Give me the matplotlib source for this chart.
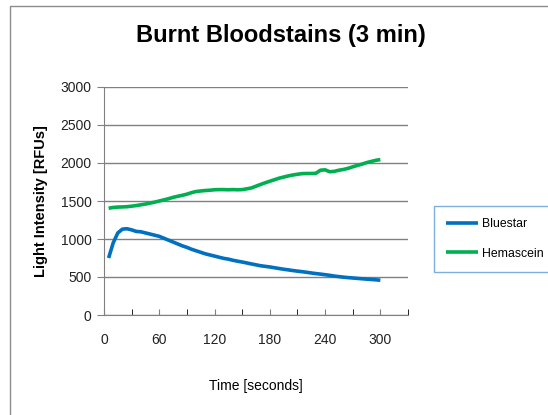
import numpy as np
import matplotlib
matplotlib.use("Agg")
import matplotlib.pyplot as plt
from matplotlib.patches import Rectangle

plt.rcParams['font.family'] = ['Liberation Sans', 'DejaVu Sans']

# time axis in seconds
time = list(range(5, 305, 5))

bluestar = [750, 950, 1080, 1130, 1135, 1120, 1100, 1095, 1080, 1065,
            1050, 1035, 1010, 985, 960, 935, 910, 890, 865, 845,
            825, 805, 790, 775, 760, 745, 735, 720, 708, 697,
            685, 672, 660, 648, 640, 632, 622, 612, 602, 594,
            585, 577, 570, 562, 553, 545, 538, 530, 522, 512,
            505, 498, 492, 487, 482, 477, 472, 468, 463, 458]

hemascein = [1405, 1415, 1420, 1422, 1425, 1432, 1440, 1450, 1460, 1472,
             1485, 1500, 1515, 1530, 1548, 1562, 1575, 1590, 1610, 1625,
             1632, 1638, 1642, 1648, 1650, 1650, 1648, 1650, 1648, 1650,
             1660, 1672, 1695, 1718, 1740, 1760, 1780, 1800, 1815, 1830,
             1842, 1852, 1860, 1862, 1862, 1865, 1905, 1910, 1885, 1890,
             1905, 1915, 1930, 1950, 1968, 1985, 2005, 2020, 2035, 2045]

xticks = [0, 60, 120, 180, 240, 300]
yticks = [0, 500, 1000, 1500, 2000, 2500, 3000]

fig = plt.figure(figsize=(5.48, 4.15), dpi=100)
fig.patch.set_facecolor('white')
# outer chart frame (cut off on right/bottom like the screenshot)
fig.patches.append(Rectangle((10/548, -0.1), 1.2, (415-6)/415 + 0.1,
                             transform=fig.transFigure, fill=False,
                             edgecolor='#8c8c8c', lw=1.0))

ax = fig.add_axes([104/548, 1 - 315/415, (408-104)/548, (315-87)/415])

ax.plot(time, bluestar, color='#0070C0', lw=2.6, label='Bluestar', solid_capstyle='butt')
ax.plot(time, hemascein, color='#00B050', lw=2.6, label='Hemascein', solid_capstyle='butt')

ax.set_xlim(0, 330)
ax.set_ylim(0, 3000)
ax.set_xticks(xticks)
ax.set_xticks(range(0, 331, 30), minor=True)
ax.set_yticks(yticks)
ax.yaxis.grid(True, color='#808080', lw=1.0)
ax.set_axisbelow(True)

for s in ['top', 'right']:
    ax.spines[s].set_visible(False)
for s in ['left', 'bottom']:
    ax.spines[s].set_color('#808080')
ax.tick_params(axis='both', colors='#808080', labelcolor='#222222', labelsize=10)
ax.tick_params(axis='x', which='both', length=4, direction='in', pad=13)
ax.tick_params(axis='y', length=5, direction='out', pad=4)

ax.set_xlabel('Time [seconds]', fontsize=10, labelpad=23)
ax.set_ylabel('Light Intensity [RFUs]', fontsize=10.5, fontweight='bold', labelpad=9)

fig.text(281/548, 1 - 42/415, 'Burnt Bloodstains (3 min)', ha='center', va='baseline',
         fontsize=17, fontweight='bold')

leg = ax.legend(loc='center left', bbox_to_anchor=(434/548, 1 - 239/415),
                bbox_transform=fig.transFigure, frameon=True, fancybox=False,
                fontsize=8.8, handlelength=2.6, handletextpad=0.3,
                labelspacing=1.4, borderpad=1.0, borderaxespad=0)
leg.get_frame().set_edgecolor('#5b9bd5')
leg.get_frame().set_linewidth(1.0)

fig.savefig('out.png', dpi=100)
